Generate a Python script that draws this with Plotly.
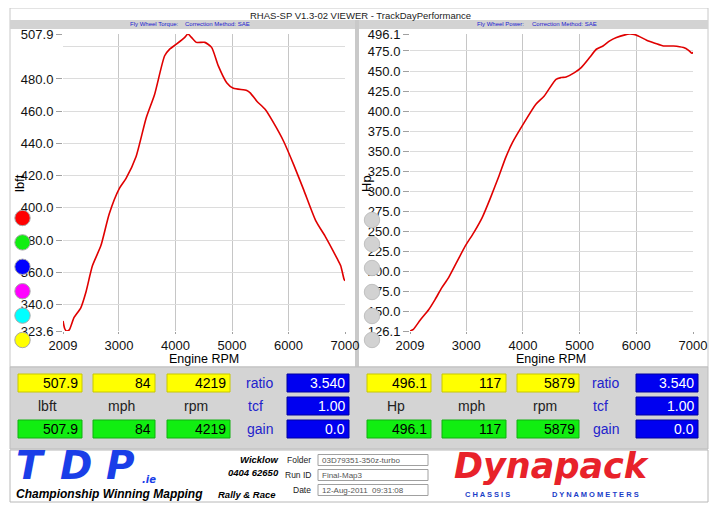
import plotly.graph_objects as go

# ---------------- data ----------------
torque_rpm = [2009, 2040, 2070, 2120, 2205, 2324, 2413, 2531, 2680, 2828, 3007, 3125, 3303, 3481,
              3630, 3808, 3897, 4016, 4164, 4219, 4283, 4372, 4520, 4639, 4758, 4906, 5025, 5262,
              5322, 5440, 5589, 5737, 5915, 6093, 6271, 6479, 6657, 6864, 6924, 6983, 7000]
torque_lbft = [329.8, 325.0, 323.6, 324.3, 332.0, 338.0, 347.5, 364.2, 376.6, 396.4, 412.1, 418.3,
               431.9, 455.8, 470.4, 494.4, 498.5, 501.6, 505.8, 507.9, 505.8, 502.7, 502.7, 499.6,
               488.1, 477.7, 474.2, 472.9, 471.4, 466.2, 461.0, 452.7, 441.2, 426.7, 411.0, 392.3,
               381.9, 368.3, 364.1, 355.8, 354.8]

power_rpm = [2009, 2068, 2187, 2334, 2453, 2571, 2690, 2838, 2985, 3134, 3282, 3430, 3578, 3696,
             3815, 4022, 4229, 4377, 4584, 4673, 4762, 4910, 5028, 5176, 5295, 5413, 5532, 5650,
             5800, 5879, 5960, 6035, 6183, 6331, 6479, 6656, 6834, 6923, 6982, 7000]
power_hp = [126.1, 128.2, 139.5, 152.3, 165.6, 180.2, 192.6, 212.5, 232.1, 248.7, 267.4, 292.3,
            319.3, 342.1, 360.8, 385.7, 408.6, 418.9, 439.7, 441.8, 442.6, 448.0, 454.2, 466.7,
            477.1, 481.2, 487.5, 491.6, 495.0, 496.1, 495.6, 493.7, 488.3, 484.6, 481.2, 481.2,
            479.2, 475.8, 472.1, 473.3]

x_ticks = [2009, 3000, 4000, 5000, 6000, 7000]
torque_ticks = [323.6, 340, 360, 380, 400, 420, 440, 460, 480, 507.9]
torque_minor = [500]
power_ticks = [126.1, 150, 175, 200, 225, 250, 275, 300, 325, 350, 375, 400, 425, 450, 475, 496.1]

left_top = ["507.9", "84", "4219"]
left_bottom = ["507.9", "84", "4219"]
left_units = ["lbft", "mph", "rpm"]
right_top = ["496.1", "117", "5879"]
right_bottom = ["496.1", "117", "5879"]
right_units = ["Hp", "mph", "rpm"]
side_labels = ["ratio", "tcf", "gain"]
side_values = ["3.540", "1.00", "0.0"]

left_dots = ["#ff0000", "#11ee11", "#0000ff", "#ff00ff", "#00ffff", "#ffff00"]
info_labels = ["Folder", "Run ID", "Date"]
info_values = ["03D79351-350z-turbo", "Final-Map3", "12-Aug-2011  09:31:08"]

# ---------------- helpers ----------------
# The page body has an 8px margin, so the figure is made 8px smaller and all
# layout coordinates (given in window pixels) are shifted by that offset.
OFF = 8
W, H = 720 - OFF, 509 - OFF
FONT = "Liberation Sans"


def px(x):
    return (x - OFF) / W


def py(y):
    return 1 - (y - OFF) / H


shapes = []
annots = []


def rect(x0, y0, x1, y1, fill, line="rgba(0,0,0,0)", lw=1, layer="below"):
    shapes.append(dict(type="rect", xref="paper", yref="paper", x0=px(x0), x1=px(x1),
                       y0=py(y1), y1=py(y0), fillcolor=fill, line=dict(color=line, width=lw),
                       layer=layer))


def circle(cx, cy, r, fill, line="#a8a8a8"):
    shapes.append(dict(type="circle", xref="paper", yref="paper", x0=px(cx - r), x1=px(cx + r),
                       y0=py(cy + r), y1=py(cy - r), fillcolor=fill, line=dict(color=line, width=1),
                       layer="above"))


def text(x, y, s, size=13, color="black", anchor="center", bold=False, italic=False,
         family=FONT, angle=0):
    if bold:
        s = "<b>" + s + "</b>"
    if italic:
        s = "<i>" + s + "</i>"
    annots.append(dict(x=px(x), y=py(y), xref="paper", yref="paper", text=s, showarrow=False,
                       xanchor=anchor, yanchor="middle", textangle=angle,
                       font=dict(size=size, color=color, family=family)))


# ---------------- frame ----------------
rect(10, 8, 708, 367, "white", "#c8c8c8")
rect(10, 20, 708, 29, "#d3d3d3")
rect(355, 20, 359, 367, "#c9c9c9")
text(360, 15, "RHAS-SP V1.3-02 VIEWER - TrackDayPerformance", size=9.5, color="#222")
text(128, 24.5, "Fly Wheel Torque:", size=6, color="#1a1ad0", anchor="left")
text(183, 24.5, "Correction Method: SAE", size=6, color="#1a1ad0", anchor="left")
text(475, 24.5, "Fly Wheel Power:", size=6, color="#1a1ad0", anchor="left")
text(530, 24.5, "Correction Method: SAE", size=6, color="#1a1ad0", anchor="left")

text(19, 183, "lbft", size=13, angle=-90)
text(366, 183, "Hp", size=13, angle=-90)
text(204, 359, "Engine RPM", size=12.5)
text(551, 359, "Engine RPM", size=12.5)

for i, c in enumerate(left_dots):
    circle(22.5, 218 + i * 24.4, 7.7, c)
for i in range(6):
    circle(372, 220 + i * 24, 7.7, "#d2d2d2", "#c0c0c0")

# ---------------- lower panel ----------------
rect(10, 367, 708, 449, "#d4d4d4", "#bdbdbd")

row_y = [383, 406, 429]


def panel(box_x, tops, bottoms, units, side_x, blue_x):
    for (x0, x1), t, b, u in zip(box_x, tops, bottoms, units):
        rect(x0, 374, x1, 392, "#ffff00", "#c8c800", layer="above")
        text(x1 - 2, row_y[0], t, size=14, anchor="right")
        text((x0 + x1) / 2 - 3, row_y[1], u, size=14, color="#222")
        rect(x0, 420, x1, 438, "#11ee11", "#10b010", layer="above")
        text(x1 - 2, row_y[2], b, size=14, anchor="right")
    for k, (lab, val) in enumerate(zip(side_labels, side_values)):
        text(side_x[k], row_y[k], lab, size=14, color="#2222cc")
        rect(blue_x[0], row_y[k] - 9, blue_x[1], row_y[k] + 9, "#0000f0", "#0000a0", layer="above")
        text(blue_x[1] - 2, row_y[k], val, size=14, color="white", anchor="right")


panel([(18, 82), (93, 155), (167, 230)], left_top, left_bottom, left_units,
      [260, 255, 260], (287, 349))
panel([(367, 431), (442, 506), (517, 579)], right_top, right_bottom, right_units,
      [605, 600, 606], (636, 698))

# ---------------- footer ----------------
rect(10, 450, 708, 502, "white", "#b8b8b8")
for letter, lx in zip("TDP", [14, 58, 104]):
    text(lx, 465, letter, size=39, color="#1a3ee8", anchor="left", bold=True, italic=True,
         family="DejaVu Sans")
text(140, 479, ".ie", size=10, color="#1a3ee8", anchor="left", bold=True, italic=True,
     family="DejaVu Sans")
text(14, 494, "Championship Winning Mapping", size=12, anchor="left", bold=True, italic=True)
text(216, 494, "Rally & Race", size=9.5, anchor="left", bold=True, italic=True)
text(281, 459, "Wicklow", size=9.5, anchor="right", bold=True, italic=True)
text(281, 472, "0404 62650", size=9.5, anchor="right", bold=True, italic=True)
for k, (lab, val) in enumerate(zip(info_labels, info_values)):
    yy = 460 + k * 15
    text(313, yy, lab, size=8.5, anchor="right", color="#222")
    rect(318, yy - 5.5, 428, yy + 5.5, "white", "#a0a0a0", layer="above")
    text(320, yy, val, size=8, anchor="left", color="#555")

text(452, 466, "Dynapack", size=35, color="#e8222a", anchor="left", bold=True, italic=True,
     family="DejaVu Sans")
text(463, 494, "C H A S S I S", size=7.5, color="#1a3ec8", anchor="left", bold=True)
text(550, 494, "D Y N A M O M E T E R S", size=7.5, color="#1a3ec8", anchor="left", bold=True)

# ---------------- charts ----------------
fig = go.Figure()
fig.add_trace(go.Scatter(x=torque_rpm, y=torque_lbft, mode="lines",
                         line=dict(color="#e00000", width=1.6, shape="spline", smoothing=0.6),
                         xaxis="x", yaxis="y", showlegend=False, hoverinfo="skip"))
fig.add_trace(go.Scatter(x=power_rpm, y=power_hp, mode="lines",
                         line=dict(color="#e00000", width=1.6, shape="spline", smoothing=0.6),
                         xaxis="x2", yaxis="y2", showlegend=False, hoverinfo="skip"))

xcommon = dict(range=[2009, 7000], tickmode="array", tickvals=x_ticks,
               ticktext=[str(v) for v in x_ticks], showgrid=False,
               minor=dict(tickmode="array", tickvals=x_ticks[:-1], showgrid=True,
                          gridcolor="#c6c6c6", gridwidth=1, ticks=""),
               ticks="outside", ticklen=2, tickcolor="#a0a0a0", zeroline=False,
               showline=False, automargin=False,
               tickfont=dict(family=FONT, size=13, color="#111"), fixedrange=True)
ycommon = dict(tickmode="array", showgrid=True, gridcolor="#dcdcdc", gridwidth=1,
               ticks="outside", ticklen=6, tickcolor="#a0a0a0", zeroline=False, showline=False,
               automargin=False,
               tickfont=dict(family=FONT, size=13, color="#111"), fixedrange=True)

fig.update_layout(
    template="none",
    width=W, height=H, autosize=False, margin=dict(l=0, r=0, t=0, b=0, pad=0),
    paper_bgcolor="white", plot_bgcolor="white", showlegend=False,
    xaxis=dict(domain=[px(63), px(345)], anchor="y", **xcommon),
    yaxis=dict(domain=[py(331), py(34)], anchor="x", range=[323.6, 507.9],
               tickvals=torque_ticks, ticktext=[f"{v:.1f}" for v in torque_ticks],
               minor=dict(tickmode="array", tickvals=torque_minor, showgrid=True,
                          gridcolor="#dcdcdc", ticks=""),
               **ycommon),
    xaxis2=dict(domain=[px(410), px(693)], anchor="y2", **xcommon),
    yaxis2=dict(domain=[py(331), py(34)], anchor="x2", range=[126.1, 496.1],
                tickvals=power_ticks, ticktext=[f"{v:.1f}" for v in power_ticks], **ycommon),
    shapes=shapes, annotations=annots,
)

fig.write_html("out.html")
